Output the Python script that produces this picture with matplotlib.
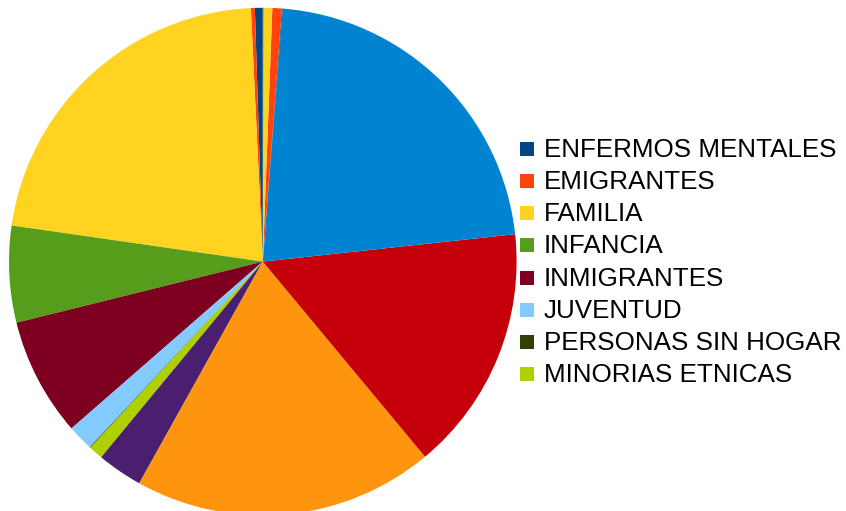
import matplotlib
matplotlib.use("Agg")
import matplotlib.pyplot as plt
from matplotlib.patches import Rectangle

# Number of cases per group (drawn counter-clockwise from 12 o'clock)
values = [10, 5, 440, 123, 151, 33, 1, 18, 58, 383, 314, 441, 1, 12, 11, 1]

# Groups shown in the legend
legend_labels = [
    "ENFERMOS MENTALES",
    "EMIGRANTES",
    "FAMILIA",
    "INFANCIA",
    "INMIGRANTES",
    "JUVENTUD",
    "PERSONAS SIN HOGAR",
    "MINORIAS ETNICAS",
]

palette = [
    "#004586", "#ff420e", "#ffd320", "#579d1c", "#7e0021", "#83caff",
    "#314004", "#aecf00", "#4b1f6f", "#ff950e", "#c5000b", "#0084d1",
]
colors = [palette[i % len(palette)] for i in range(len(values))]

W, H = 846, 511
fig = plt.figure(figsize=(W / 100, H / 100), dpi=100)
fig.patch.set_facecolor("white")

# Pie: centre and radius in pixels (bottom of the disc runs past the canvas)
cx, cy, r = 262.8, 261.6, 253.8
ax = fig.add_axes([(cx - r) / W, (H - cy - r) / H, 2 * r / W, 2 * r / H])
wedges, _ = ax.pie(values, colors=colors, startangle=90, counterclock=True,
                   radius=1.0, wedgeprops=dict(linewidth=0))
ax.set_xlim(-1, 1)
ax.set_ylim(-1, 1)
ax.set_aspect("equal")
ax.axis("off")

# Legend with square keys
row0, step = 156.8, 32.2
for i, label in enumerate(legend_labels):
    base = row0 + i * step
    sq_center = base - 8.0
    fig.add_artist(Rectangle((520 / W, (H - sq_center - 7) / H), 14 / W, 14 / H,
                             transform=fig.transFigure,
                             facecolor=wedges[i].get_facecolor(), edgecolor="none"))
    fig.text(544 / W, (H - base) / H, label, fontsize=18.7,
             family=["Liberation Sans", "DejaVu Sans"], color="black",
             ha="left", va="baseline")

fig.savefig("out.png", dpi=100, facecolor="white")
